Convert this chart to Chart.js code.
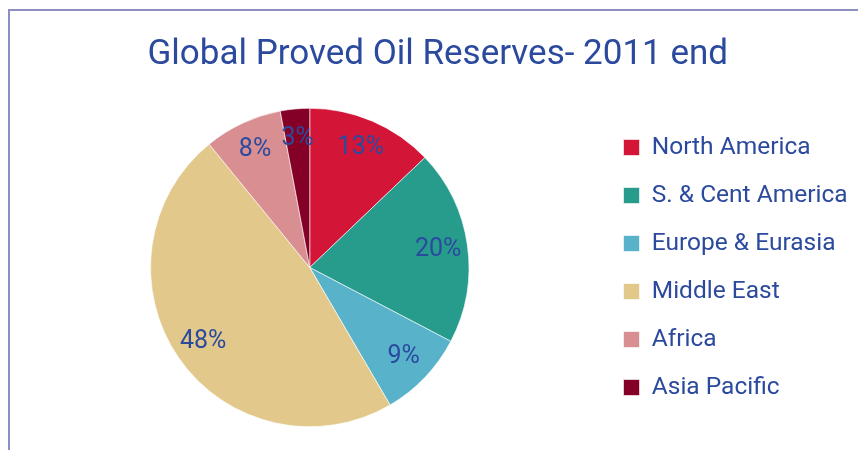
<!DOCTYPE html>
<html>
<head>
<meta charset="utf-8">
<title>Global Proved Oil Reserves- 2011 end</title>
<script src="https://cdn.jsdelivr.net/npm/chart.js@4/dist/chart.umd.min.js"></script>
<style>
  html, body { margin: 0; padding: 0; background: #fff; overflow: hidden; }
  .wrap { position: relative; width: 858px; height: 450px; }
  .frame {
    position: absolute; left: 8px; top: 9px; width: 900px; height: 500px;
    border-left: 2px solid #8b90c0; border-top: 2px solid #8b90c0;
  }
  canvas { position: absolute; left: 0; top: 0; }
</style>
</head>
<body>
<div class="wrap">
  <div class="frame"></div>
  <canvas id="chart-reservas" width="858" height="450"></canvas>
</div>
<script>
/* ---- Datos ---- */
const regiones = ['North America', 'S. & Cent America', 'Europe & Eurasia', 'Middle East', 'Africa', 'Asia Pacific'];
const porcentajes = [13, 20, 9, 48, 8, 3];
const colores = ['#d31638', '#279c8d', '#58b2ca', '#e2c98b', '#d98e92', '#850026'];

const AZUL = '#2b4a9e';
const FUENTE = "Roboto, 'Liberation Sans', sans-serif";

/* ---- Etiquetas de porcentaje dentro de cada sector ---- */
const etiquetas = {
  id: 'etiquetas',
  afterDatasetsDraw(chart) {
    const ctx = chart.ctx;
    const meta = chart.getDatasetMeta(0);
    ctx.save();
    ctx.font = '25px ' + FUENTE;
    ctx.fillStyle = AZUL;
    ctx.textAlign = 'center';
    ctx.textBaseline = 'middle';
    meta.data.forEach((arc, i) => {
      const { x, y, startAngle, endAngle, outerRadius } = arc.getProps(['x', 'y', 'startAngle', 'endAngle', 'outerRadius'], true);
      const mid = (startAngle + endAngle) / 2;
      const r = outerRadius * 0.815;
      ctx.fillText(porcentajes[i] + '%', x + Math.cos(mid) * r, y + Math.sin(mid) * r);
    });
    ctx.restore();
  }
};

new Chart(document.getElementById('chart-reservas'), {
  type: 'pie',
  data: {
    labels: regiones,
    datasets: [{
      data: porcentajes,
      backgroundColor: colores,
      borderColor: '#ffffff',
      borderWidth: 0.6
    }]
  },
  options: {
    responsive: false,
    animation: false,
    layout: { padding: { top: 0, bottom: 23, left: 19.5, right: 2 } },
    plugins: {
      title: {
        display: true,
        text: 'Global Proved Oil Reserves- 2011 end',
        color: AZUL,
        font: { family: FUENTE, size: 35, weight: 'normal', lineHeight: 1.2 },
        padding: { top: 34, bottom: 32 }
      },
      legend: {
        position: 'right',
        fullSize: false,
        maxWidth: 256,
        labels: {
          color: AZUL,
          font: { family: FUENTE, size: 24.5 },
          boxWidth: 16,
          boxHeight: 16,
          padding: 23.5
        }
      },
      tooltip: { enabled: false }
    }
  },
  plugins: [etiquetas]
});
</script>
</body>
</html>
